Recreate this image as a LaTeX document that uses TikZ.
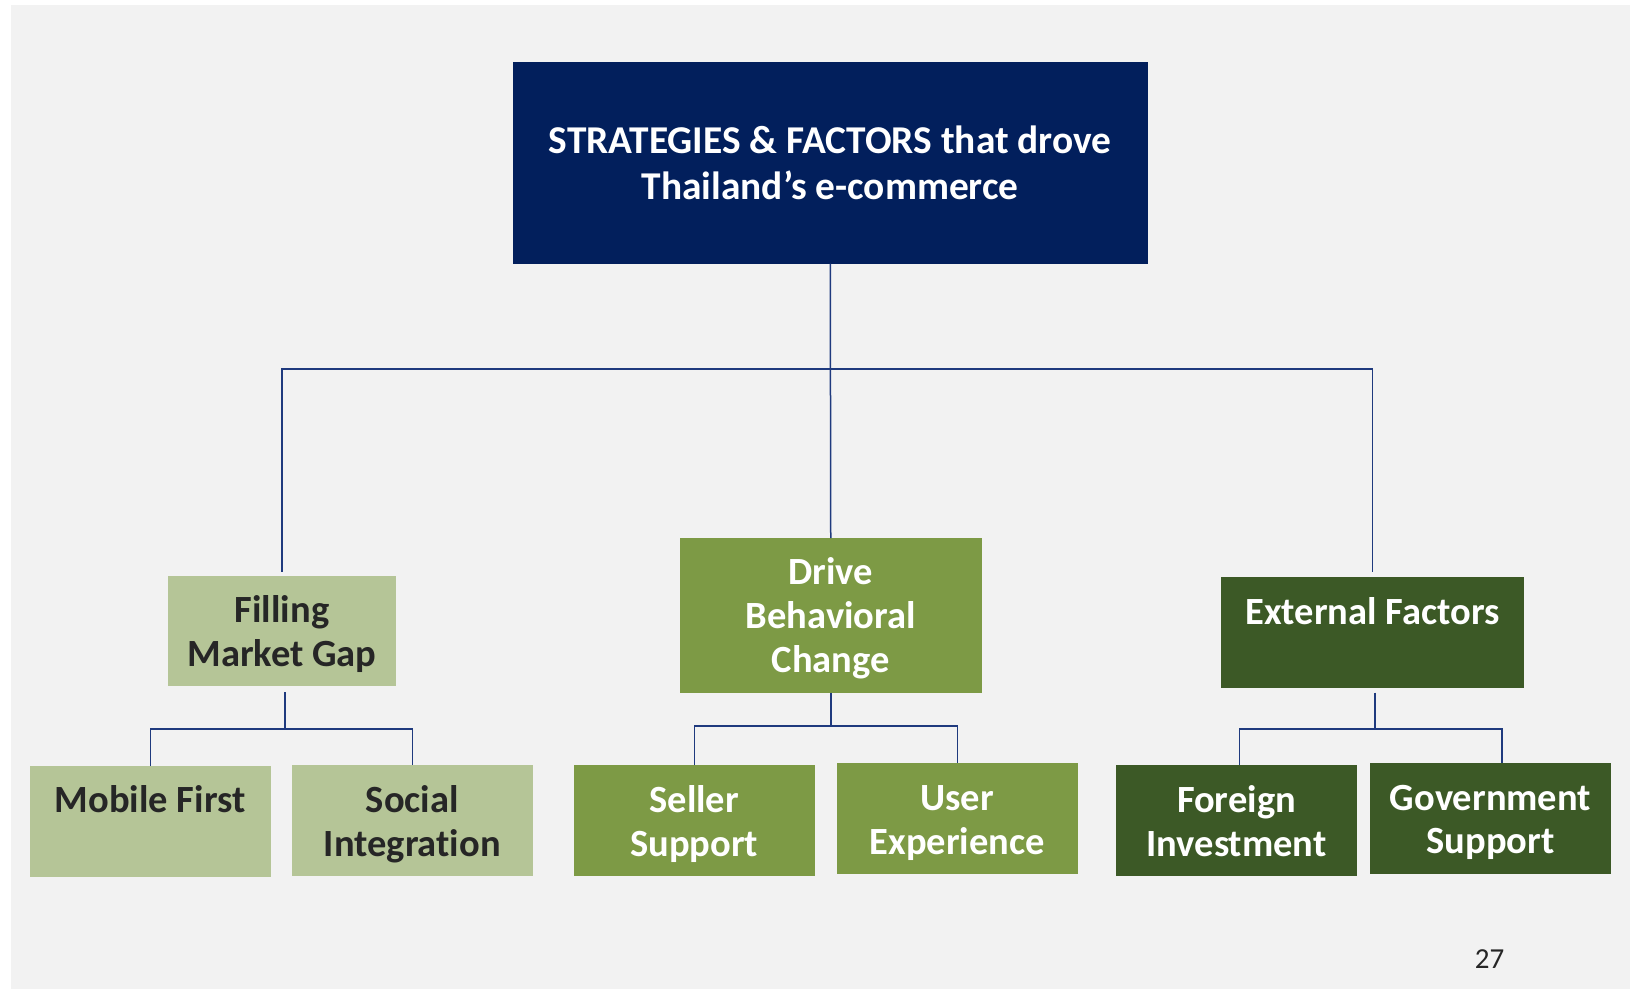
\documentclass[tikz,border=0pt]{standalone}
\usepackage{fontspec}
\setmainfont{Carlito}[Ligatures={NoCommon}]
\usetikzlibrary{calc}

\definecolor{pagegray}{HTML}{F2F2F2}
\definecolor{navy}{HTML}{021F5C}
\definecolor{linkblue}{HTML}{1F3A7E}
\definecolor{palegreen}{HTML}{B5C597}
\definecolor{olivegreen}{HTML}{7D9A45}
\definecolor{forestgreen}{HTML}{3C5926}
\definecolor{inkgray}{HTML}{262626}

\begin{document}
\begin{tikzpicture}[x=1pt, y=-1pt,
  panel/.style={rectangle, inner sep=0pt, outer sep=0pt, anchor=north west},
  rootbox/.style={panel, fill=navy},
  lightbox/.style={panel, fill=palegreen},
  midbox/.style={panel, fill=olivegreen},
  darkbox/.style={panel, fill=forestgreen},
  caption/.style={anchor=north, inner sep=0pt, outer sep=0pt, align=center,
    font=\bfseries\fontsize{38.5}{43.8}\selectfont},
  conn/.style={draw=linkblue, line width=1.5pt}]

\useasboundingbox (0,0) rectangle (1636,990);
\fill[pagegray] (11,5) rectangle (1630,989);

% boxes
\node[rootbox,  minimum width=634.5pt, minimum height=201pt]   (root)  at (513,62.5)  {};
\node[lightbox, minimum width=228pt,   minimum height=110pt]   (fill)  at (168,576)   {};
\node[midbox,   minimum width=301.5pt, minimum height=154.5pt] (drive) at (680,538)   {};
\node[darkbox,  minimum width=303pt,   minimum height=110.5pt] (ext)   at (1221,577)  {};
\node[lightbox, minimum width=240.5pt, minimum height=110.5pt] (mob)   at (30,766)    {};
\node[lightbox, minimum width=240.5pt, minimum height=111pt]   (soc)   at (292,765)   {};
\node[midbox,   minimum width=240.5pt, minimum height=110.7pt] (sel)   at (574,765)   {};
\node[midbox,   minimum width=240.5pt, minimum height=110.7pt] (usr)   at (837,763)   {};
\node[darkbox,  minimum width=241pt,   minimum height=110.7pt] (frn)   at (1116,765)  {};
\node[darkbox,  minimum width=241pt,   minimum height=110.7pt] (gov)   at (1370,763)  {};

% captions
\node[caption, text=white, font=\bfseries\fontsize{39.4}{45.3}\selectfont]
  (rootlbl) at ($(root.north)+(0,59.5)$) {\strut STRATEGIES \& FACTORS that drove\\Thailand’s e-commerce};
\node[caption, text=inkgray] (filllbl)  at ($(fill.north)+(0,15.8)$)  {\strut Filling\\Market Gap};
\node[caption, text=white]   (drivelbl) at ($(drive.north)+(0,15.9)$) {\strut Drive\\Behavioral\\Change};
\node[caption, text=white]   (extlbl)   at ($(ext.north)+(0,16.7)$)   {\strut External Factors};
\node[caption, text=inkgray] (moblbl)   at ($(mob.north)+(0,15.9)$)   {\strut Mobile First};
\node[caption, text=inkgray] (soclbl)   at ($(soc.north)+(0,16.9)$)   {\strut Social\\Integration};
\node[caption, text=white]   (sellbl)   at ($(sel.north)+(0,17.2)$)   {\strut Seller\\Support};
\node[caption, text=white]   (usrlbl)   at ($(usr.north)+(0,16.9)$)   {\strut User\\Experience};
\node[caption, text=white]   (frnlbl)   at ($(frn.north)+(0,16.9)$)   {\strut Foreign\\Investment};
\node[caption, text=white]   (govlbl)   at ($(gov.north)+(0,16.5)$)   {\strut Government\\Support};

% page number
\node[anchor=base, inner sep=0pt, text=inkgray, font=\fontsize{29}{34}\selectfont]
  (pagenum) at (1489.5,968) {27};

% top level connectors
\draw[conn] (root.south) -- (drive.north);
\coordinate (topbus) at ($(root.south)+(0,105.5)$);
\draw[conn] ($(fill.north)+(0,-4.5)$) |- (topbus) -| ($(ext.north)+(0,-5)$);

% Filling Market Gap branch
\draw[conn] ($(fill.south)+(3,6)$) -- ++(0,37) coordinate (fillbus);
\draw[conn] (mob.north) |- (fillbus) -| (soc.north);

% Drive Behavioral Change branch
\draw[draw=linkblue, line width=2.4pt] (drive.south) -- ++(0,33.5) coordinate (drivebus);
\draw[conn] (sel.north) |- (drivebus) -| (usr.north);

% External Factors branch
\draw[conn] ($(ext.south)+(2.5,5)$) -- ++(0,36.5) coordinate (extbus);
\draw[conn] ($(frn.north)+(3,0)$) |- (extbus) -| ($(gov.north)+(11.5,0)$);

\end{tikzpicture}
\end{document}
